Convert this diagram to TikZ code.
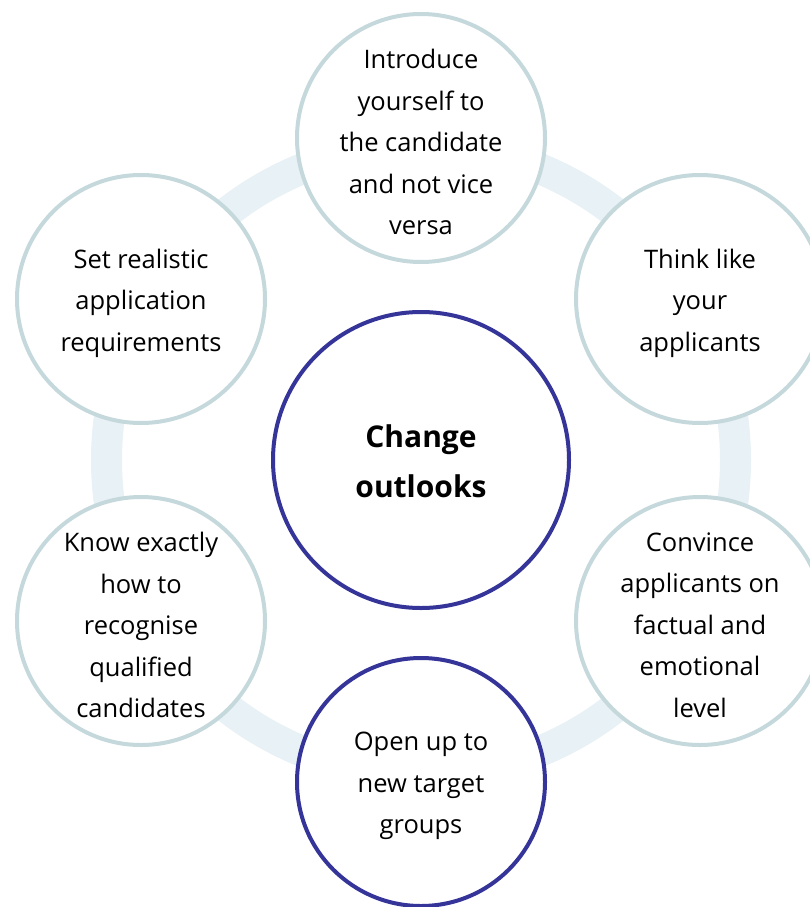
\documentclass[tikz,border=0pt]{standalone}
\usepackage{fontspec}
\setmainfont{Open Sans}
\definecolor{ringc}{HTML}{E8F1F5}
\definecolor{outc}{HTML}{C5D9DC}
\definecolor{navy}{HTML}{343499}
\begin{document}
\begin{tikzpicture}[x=1pt,y=-1pt,
  item/.style={circle,draw=outc,line width=4pt,fill=white,minimum size=248pt,inner sep=0pt},
  keyitem/.style={item,draw=navy},
  txt/.style={align=center,inner sep=0pt,yshift=-4pt,font=\fontsize{25.5}{41.5}\selectfont},
  hub/.style={circle,draw=navy,line width=4pt,fill=white,minimum size=296pt,inner sep=0pt},
  hubtxt/.style={align=center,inner sep=0pt,yshift=-1pt,font=\fontsize{30}{50}\selectfont\bfseries}]
\useasboundingbox (0,0) rectangle (809,907);
\coordinate (c) at (421,460);
\draw[ringc,line width=31pt] (c) circle[radius=314.5];
\node[hub] (hub) at (c) {};
\node[hubtxt] (hubt) at (hub) {Change\\outlooks};
\node[item] (n1) at (421,138) {};
\node[keyitem] (n4) at (421,782) {};
\node[item] (n2) at (700,299) {};
\node[item] (n3) at (700,621) {};
\node[item] (n5) at (141,621) {};
\node[item] (n6) at (141,299) {};
\node[txt] (t1) at (n1) {Introduce\\yourself to\\the candidate\\and not vice\\versa};
\node[txt] (t2) at (n2) {Think like\\your\\applicants};
\node[txt] (t3) at (n3) {Convince\\applicants on\\factual and\\emotional\\level};
\node[txt] (t4) at (n4) {Open up to\\new target\\groups};
\node[txt] (t5) at (n5) {Know exactly\\how to\\recognise\\qualified\\candidates};
\node[txt] (t6) at (n6) {Set realistic\\application\\requirements};
\end{tikzpicture}
\end{document}
